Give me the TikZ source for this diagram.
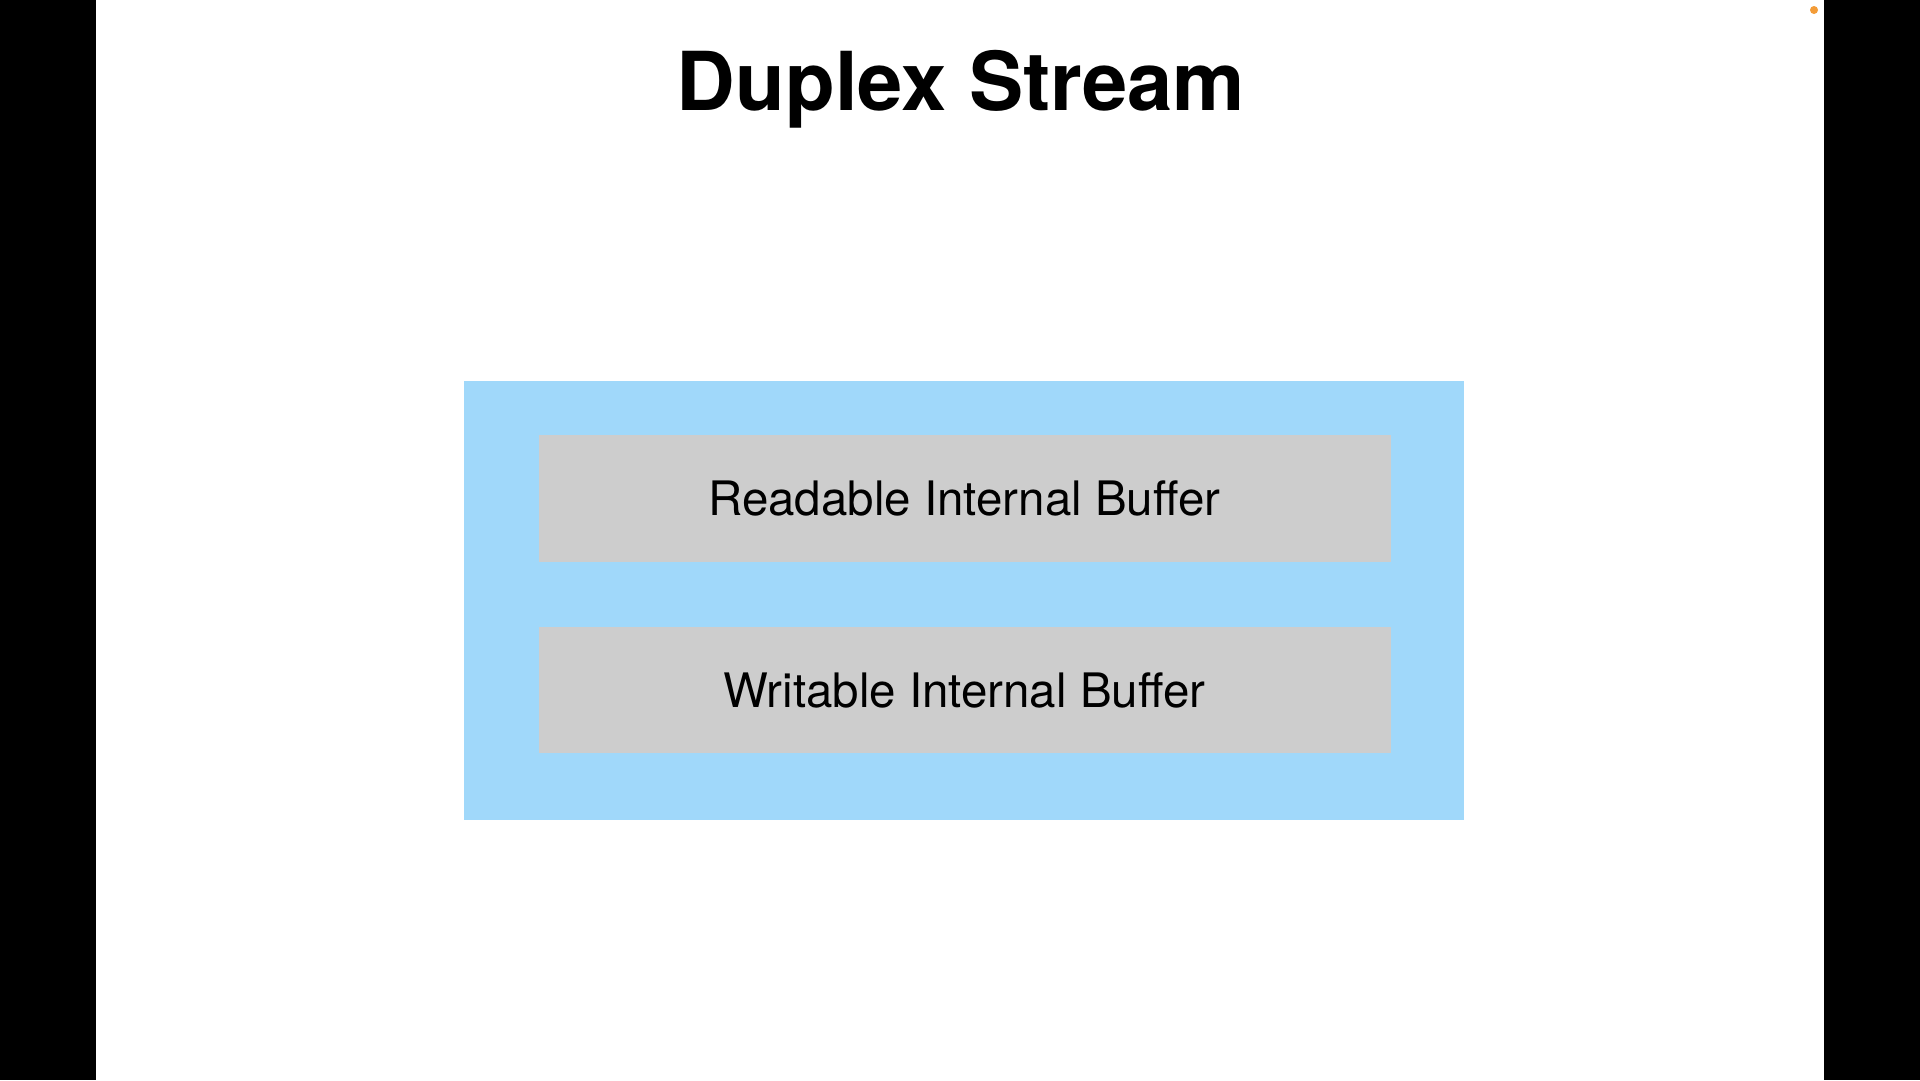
\documentclass[tikz,border=0pt]{standalone}
\usepackage{fontspec}
\setmainfont{TeX Gyre Heros}
\definecolor{streamblue}{HTML}{A0D8FA}
\definecolor{buffergray}{HTML}{CDCDCD}
\definecolor{dotorange}{HTML}{F39C38}

\begin{document}
\begin{tikzpicture}[x=1pt, y=-1pt,
    buffer/.style={fill=buffergray, inner sep=0pt, minimum width=852pt, minimum height=127pt,
                   font=\fontsize{47.5}{52}\selectfont}]
        % Slide and side bars
        \useasboundingbox (0,0) rectangle (1920,1080);
        \fill[white] (0,0) rectangle (1920,1080);
        \fill[black] (0,0) rectangle (96,1080);
        \fill[black] (1824,0) rectangle (1920,1080);
        \fill[dotorange] (1814,10) circle (4);

        % Title
        \node[anchor=base, font=\bfseries\fontsize{81.3}{90}\selectfont] (title) at (961,110) {Duplex Stream};

        % The stream and its two buffers
        \node[fill=streamblue, inner sep=0pt, minimum width=1000pt, minimum height=439pt] (duplex) at (964,600.5) {};
        \node[buffer] (readable) at (964.5,498.5) {Readable Internal Buffer};
        \node[buffer, minimum height=126pt] (writable) at (964.5,690) {Writable Internal Buffer};
    \end{tikzpicture}
\end{document}
